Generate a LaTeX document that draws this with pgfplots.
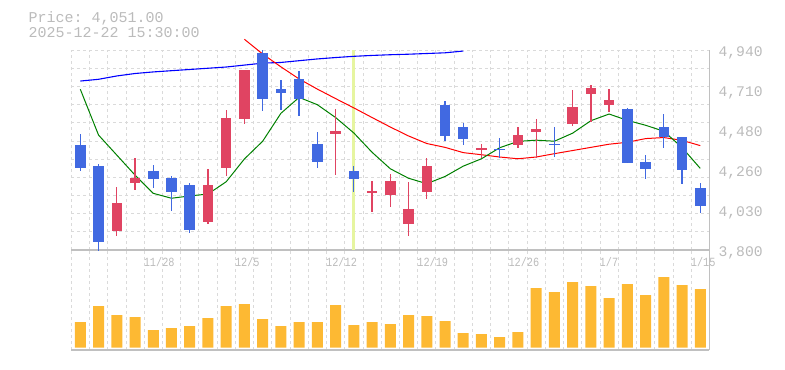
\documentclass[border=0pt]{standalone}
\usepackage{fontspec}
\setmonofont{Liberation Mono}
\newfontfamily\xfont[FakeStretch=0.82]{Liberation Mono}
\usepackage{pgfplots}
\pgfplotsset{compat=1.18}
\usepackage{pgfplotstable}
\definecolor{upc}{RGB}{224,68,98}
\definecolor{dnc}{RGB}{65,105,225}
\definecolor{volc}{RGB}{253,185,51}
\definecolor{gridc}{RGB}{218,218,218}
\definecolor{axc}{RGB}{192,192,192}
\definecolor{txtc}{RGB}{187,187,187}
\definecolor{bandc}{RGB}{230,245,160}

\pgfplotstableread{
x o h l c
2 3910 4161 3881 4068
3 4182 4324 4144 4212
7 3961 4263 3950 4170
8 4269 4598 4224 4552
9 4548 4826 4520 4826
14 4463 4604 4229 4478
16 4125 4193 4018 4136
17 4115 4233 4047 4193
18 3950 4188 3881 4034
19 4132 4324 4092 4279
22 4372 4406 4324 4381
24 4400 4501 4383 4455
25 4474 4547 4326 4490
27 4520 4712 4508 4615
28 4691 4740 4531 4723
29 4628 4718 4588 4657
}\upt

\pgfplotstableread{
x o h l c
0 4398 4461 4252 4269
1 4279 4290 3795 3847
4 4252 4286 4155 4206
5 4212 4224 4024 4132
6 4170 4182 3899 3916
10 4923 4940 4594 4662
11 4718 4769 4598 4697
12 4775 4820 4565 4662
13 4404 4473 4269 4303
15 4250 4279 4132 4206
20 4626 4649 4423 4451
21 4501 4524 4400 4434
23 4378 4438 4326 4372
26 4406 4501 4332 4400
30 4604 4609 4297 4298
31 4302 4341 4206 4263
32 4501 4575 4383 4444
33 4444 4444 4178 4258
34 4153 4182 4013 4051
}\dnt

\pgfplotstableread{
x v
0 257
1 417
2 327
3 307
4 177
5 197
6 217
7 297
8 417
9 437
10 287
11 217
12 257
13 257
14 427
15 227
16 257
17 237
18 327
19 317
20 267
21 147
22 137
23 107
24 157
25 597
26 557
27 657
28 617
29 497
30 637
31 527
32 707
33 627
34 587
}\volt

\begin{document}
\begin{tikzpicture}
\path[use as bounding box] (0,0) rectangle (785bp,370bp);
\pgfplotsset{
  common/.style={scale only axis, width=638.2bp, xmin=-0.5, xmax=34.5, enlargelimits=false,
    xtick={-0.5,0.5,...,34.5}, xticklabels={}, xmajorgrids, major tick length=0pt,
    grid style={gridc, line width=0.8bp, dash pattern=on 3bp off 3bp},
    axis x line*=bottom, axis y line*=right,
    axis line style={-, axc, line width=1.2bp}},
  candle/.style={only marks, mark=*, mark size=0pt, mark options={draw=none, fill=none},
    error bars/.cd, y dir=plus, y explicit, error mark=none},
}
\begin{axis}[common, at={(71.2bp,120bp)}, anchor=south west, height=200bp,
  ymin=3800, ymax=4940, clip=false,
  ytick={3800,3903.636,4007.273,4110.909,4214.545,4318.182,4421.818,4525.455,4629.091,4732.727,4836.364,4940},
  yticklabels={}, ymajorgrids,
  extra y ticks={3800,4028,4256,4484,4712,4940},
  extra y tick labels={{3,800},{4,030},{4,260},{4,480},{4,710},{4,940}},
  extra y tick style={grid=none, yticklabel style={anchor=west, inner sep=0pt, xshift=9bp, yshift=-3bp,
      font=\fontsize{14.7bp}{15bp}\selectfont\ttfamily, text=txtc}},
  extra x ticks={3.5,8.5,13.5,18.5,23.5,28.5,33.5},
  extra x tick labels={11/28,12/5,12/12,12/19,12/26,1/7,1/15},
  extra x tick style={grid=none, xticklabel style={anchor=west, inner sep=0pt, yshift=-12bp, xshift=-0.5bp,
      font=\fontsize{12.5bp}{13bp}\selectfont\xfont, text=txtc}},
]
\addplot[bandc, line width=3bp] coordinates {(15,3800) (15,4940)};
% 75-day MA (blue)
\addplot[blue, line width=1.1bp] coordinates {
(0,4763) (1,4773) (2,4792) (3,4806) (4,4815) (5,4822) (6,4829) (7,4836) (8,4843) (9,4854)
(10,4865) (11,4869) (12,4879) (13,4889) (14,4897) (15,4904) (16,4909) (17,4913) (18,4916)
(19,4920) (20,4924) (21,4934)};
% 25-day MA (red)
\addplot[red, line width=1bp] coordinates {
(9,5001) (10,4917) (11,4844) (12,4775) (13,4717) (14,4663) (15,4610) (16,4555) (17,4501)
(18,4450) (19,4407) (20,4385) (21,4355) (22,4343) (23,4330) (24,4320) (25,4330) (26,4349)
(27,4367) (28,4385) (29,4403) (30,4414) (31,4435) (32,4441) (33,4425) (34,4395)};
% 5-day MA (green)
\addplot[green!50!black, line width=1bp] coordinates {
(0,4716) (1,4455) (2,4341) (3,4227) (4,4123) (5,4095) (6,4108) (7,4119) (8,4189) (9,4319)
(10,4420) (11,4579) (12,4670) (13,4628) (14,4555) (15,4467) (16,4357) (17,4263) (18,4209)
(19,4178) (20,4219) (21,4278) (22,4320) (23,4383) (24,4419) (25,4426) (26,4420) (27,4466)
(28,4537) (29,4575) (30,4539) (31,4511) (32,4477) (33,4384) (34,4265)};
% wicks
\addplot[candle, error bar style={line width=1.3bp, upc}]
  table[x=x, y=l, y error plus expr=\thisrow{h}-\thisrow{l}] {\upt};
\addplot[candle, error bar style={line width=1.3bp, dnc}]
  table[x=x, y=l, y error plus expr=\thisrow{h}-\thisrow{l}] {\dnt};
% bodies
\addplot[candle, error bar style={line width=10.5bp, upc}]
  table[x=x, y=o, y error plus expr=\thisrow{c}-\thisrow{o}] {\upt};
\addplot[candle, error bar style={line width=10.5bp, dnc}]
  table[x=x, y=c, y error plus expr=\thisrow{o}-\thisrow{c}] {\dnt};
\end{axis}

\begin{axis}[common, at={(71.2bp,20bp)}, anchor=south west, height=100bp,
  ymin=-23, ymax=977, ytick=\empty]
\addplot[ybar, bar width=11bp, fill=volc, draw=none] table[x=x, y=v] {\volt};
\end{axis}

\node[anchor=base west, inner sep=0pt, text=txtc, font=\fontsize{15bp}{15bp}\selectfont\ttfamily]
  at (28.5bp,347.3bp) {Price: 4,051.00};
\node[anchor=base west, inner sep=0pt, text=txtc, font=\fontsize{15bp}{15bp}\selectfont\ttfamily]
  at (28.5bp,332.7bp) {2025-12-22 15:30:00};
\end{tikzpicture}
\end{document}
